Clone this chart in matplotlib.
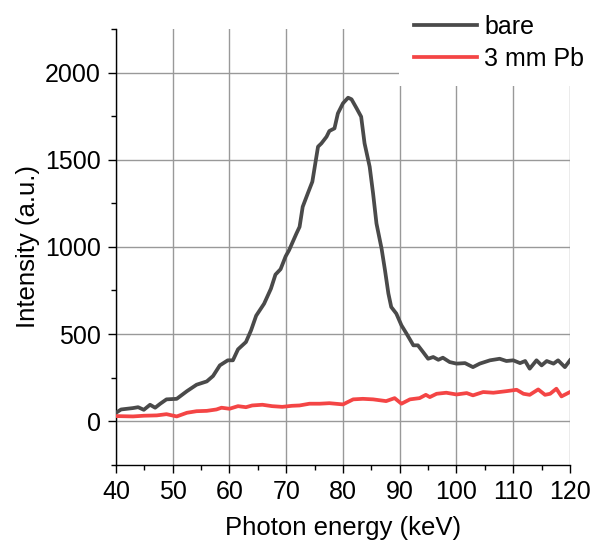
import matplotlib
matplotlib.use('Agg')
import matplotlib.pyplot as plt
from matplotlib.ticker import MultipleLocator

plt.rcParams.update({
    'font.family': ['Liberation Sans', 'DejaVu Sans'],
    'font.size': 18,
})

# bare spectrum (keV, intensity)
bare_x = [40.0, 40.9, 43.0, 43.9, 44.9, 46.0, 46.9, 47.8, 48.9, 50.7, 52.5, 54.2,
          56.0, 57.1, 58.3, 59.7, 60.6, 61.5, 62.9, 63.8, 64.7, 66.1, 67.3, 68.1,
          69.0, 69.9, 70.5, 71.8, 72.35, 72.9, 73.8, 74.6, 75.6, 76.2, 77.1, 77.6,
          78.5, 79.1, 80.0, 80.9, 81.5, 82.4, 83.2, 83.8, 84.7, 85.3, 85.9, 86.8,
          87.4, 88.0, 88.5, 89.4, 90.3, 91.2, 92.4, 93.2, 94.1, 95.0, 95.9, 96.8,
          97.6, 98.8, 100.0, 101.5, 102.9, 104.1, 105.9, 107.6, 108.8, 110.0,
          111.2, 112.1, 112.9, 114.1, 115.0, 115.9, 117.1, 117.9, 119.1, 120.0]
bare_y = [48, 67, 75, 80, 65, 94, 77, 100, 125, 128, 172, 209,
          228, 259, 320, 349, 349, 412, 454, 521, 605, 674, 760, 841,
          872, 946, 981, 1077, 1115, 1230, 1307, 1374, 1575, 1594, 1632, 1665,
          1680, 1766, 1824, 1856, 1847, 1795, 1747, 1594, 1460, 1307, 1134, 990,
          866, 732, 655, 617, 550, 502, 435, 435, 397, 358, 368, 352,
          364, 339, 330, 333, 310, 330, 349, 358, 345, 349,
          333, 345, 301, 349, 320, 345, 330, 349, 310, 349]

# with 3 mm Pb filter
pb_x = [40.0, 43.0, 44.9, 47.2, 48.9, 50.7, 52.5, 54.2, 56.0, 57.7, 58.6, 60.0,
        61.5, 62.9, 64.0, 65.8, 67.5, 69.3, 71.0, 72.35, 74.1, 75.9, 77.6, 80.0,
        81.8, 83.5, 85.3, 87.6, 89.1, 90.3, 91.8, 93.5, 94.6, 95.3, 96.5, 98.2,
        100.0, 101.8, 102.9, 104.7, 106.5, 108.8, 110.6, 111.8, 112.9, 114.4,
        115.6, 116.5, 117.6, 118.5, 120.0]
pb_y = [29, 27, 31, 33, 40, 27, 48, 57, 59, 67, 77, 71,
        86, 80, 90, 94, 86, 82, 88, 90, 100, 100, 103, 96,
        125, 128, 125, 115, 132, 100, 125, 132, 151, 138, 157, 163,
        153, 161, 148, 167, 163, 172, 180, 157, 151, 182,
        151, 157, 186, 142, 167]

fig = plt.figure(figsize=(5.93, 5.48), dpi=100)
ax = fig.add_axes([0.1956, 0.152, 0.7656, 0.795])

ax.plot(bare_x, bare_y, color='#4a4a4a', lw=2.7, label='bare', zorder=3,
        solid_joinstyle='round')
ax.plot(pb_x, pb_y, color='#f44545', lw=2.7, label='3 mm Pb', zorder=3,
        solid_joinstyle='round')

ax.set_xlim(40, 120)
ax.set_ylim(-250, 2250)
ax.xaxis.set_major_locator(MultipleLocator(10))
ax.xaxis.set_minor_locator(MultipleLocator(5))
ax.yaxis.set_major_locator(MultipleLocator(500))
ax.yaxis.set_minor_locator(MultipleLocator(250))
ax.tick_params(which='major', length=5.8, width=1, direction='out', labelsize=18,
               pad=5)
ax.tick_params(which='minor', length=3.3, width=1, direction='out')
ax.grid(True, which='major', color='#999999', lw=1)
ax.set_axisbelow(True)

for s in ['top', 'right']:
    ax.spines[s].set_visible(False)
for s in ['left', 'bottom']:
    ax.spines[s].set_linewidth(1)

ax.set_xlabel('Photon energy (keV)', fontsize=18.5, labelpad=9)
ax.set_ylabel('Intensity (a.u.)', fontsize=18.5, labelpad=4)

leg = fig.legend(loc='upper left', bbox_to_anchor=(399 / 593, 1.0), frameon=True,
                 fancybox=False, framealpha=1, edgecolor='none', facecolor='white',
                 fontsize=18, handlelength=2.5, handletextpad=0.32,
                 borderpad=0.6, labelspacing=0.3, borderaxespad=0)
leg.set_zorder(5)

fig.savefig('out.png', dpi=100, facecolor='white')
